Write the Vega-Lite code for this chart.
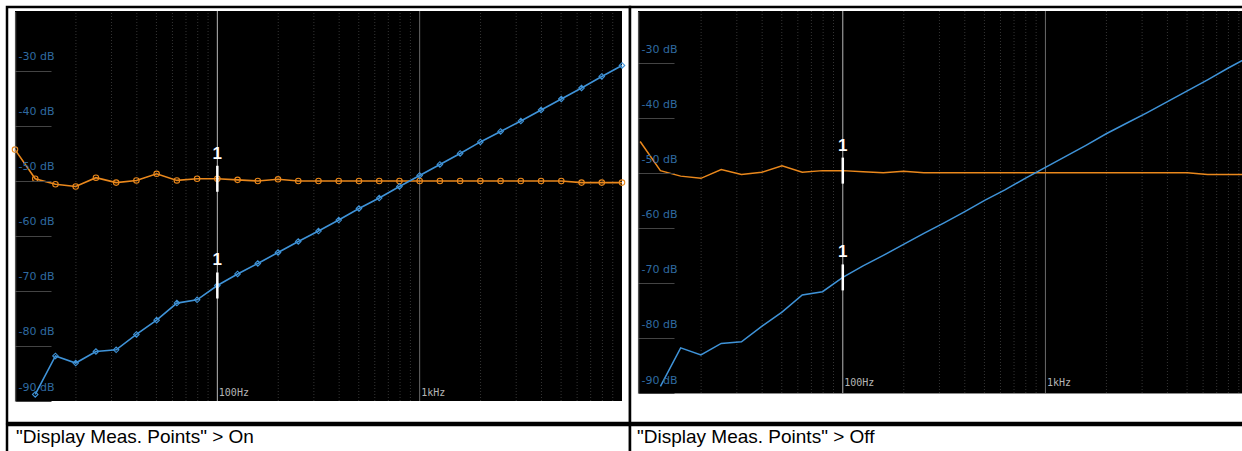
{
  "$schema": "https://vega.github.io/schema/vega-lite/v6.json",
  "background": "white",
  "padding": {"left": 5, "top": 5, "right": 0, "bottom": 0},
  "spacing": -2.5,
  "config": {"view": {"stroke": null}},
  "datasets": {
    "grid": [
      {"freq": 20, "kind": "minor"}, {"freq": 30, "kind": "minor"}, {"freq": 40, "kind": "minor"}, {"freq": 50, "kind": "minor"},
      {"freq": 60, "kind": "minor"}, {"freq": 70, "kind": "minor"}, {"freq": 80, "kind": "minor"}, {"freq": 90, "kind": "minor"},
      {"freq": 100, "kind": "major"},
      {"freq": 200, "kind": "minor"}, {"freq": 300, "kind": "minor"}, {"freq": 400, "kind": "minor"}, {"freq": 500, "kind": "minor"},
      {"freq": 600, "kind": "minor"}, {"freq": 700, "kind": "minor"}, {"freq": 800, "kind": "minor"}, {"freq": 900, "kind": "minor"},
      {"freq": 1000, "kind": "major"},
      {"freq": 2000, "kind": "minor"}, {"freq": 3000, "kind": "minor"}, {"freq": 4000, "kind": "minor"}, {"freq": 5000, "kind": "minor"},
      {"freq": 6000, "kind": "minor"}, {"freq": 7000, "kind": "minor"}, {"freq": 8000, "kind": "minor"}, {"freq": 9000, "kind": "minor"}
    ],
    "traces": [
      {"series": "Trace 1", "freq": 10, "level": -44.3},
      {"series": "Trace 1", "freq": 12.59, "level": -49.6},
      {"series": "Trace 1", "freq": 15.85, "level": -50.6},
      {"series": "Trace 1", "freq": 19.95, "level": -51.0},
      {"series": "Trace 1", "freq": 25.12, "level": -49.4},
      {"series": "Trace 1", "freq": 31.62, "level": -50.3},
      {"series": "Trace 1", "freq": 39.81, "level": -49.9},
      {"series": "Trace 1", "freq": 50.12, "level": -48.7},
      {"series": "Trace 1", "freq": 63.1, "level": -49.9},
      {"series": "Trace 1", "freq": 79.43, "level": -49.6},
      {"series": "Trace 1", "freq": 100, "level": -49.6},
      {"series": "Trace 1", "freq": 125.9, "level": -49.8},
      {"series": "Trace 1", "freq": 158.5, "level": -50.0},
      {"series": "Trace 1", "freq": 199.5, "level": -49.7},
      {"series": "Trace 1", "freq": 251.2, "level": -50.0},
      {"series": "Trace 1", "freq": 316.2, "level": -50.0},
      {"series": "Trace 1", "freq": 398.1, "level": -50.0},
      {"series": "Trace 1", "freq": 501.2, "level": -50.0},
      {"series": "Trace 1", "freq": 631, "level": -50.0},
      {"series": "Trace 1", "freq": 794.3, "level": -50.0},
      {"series": "Trace 1", "freq": 1000, "level": -50.0},
      {"series": "Trace 1", "freq": 1259, "level": -50.0},
      {"series": "Trace 1", "freq": 1585, "level": -50.0},
      {"series": "Trace 1", "freq": 1995, "level": -50.0},
      {"series": "Trace 1", "freq": 2512, "level": -50.0},
      {"series": "Trace 1", "freq": 3162, "level": -50.0},
      {"series": "Trace 1", "freq": 3981, "level": -50.0},
      {"series": "Trace 1", "freq": 5012, "level": -50.0},
      {"series": "Trace 1", "freq": 6310, "level": -50.3},
      {"series": "Trace 1", "freq": 7943, "level": -50.3},
      {"series": "Trace 1", "freq": 10000, "level": -50.3},
      {"series": "Trace 2", "freq": 12.59, "level": -88.8},
      {"series": "Trace 2", "freq": 15.85, "level": -81.8},
      {"series": "Trace 2", "freq": 19.95, "level": -83.1},
      {"series": "Trace 2", "freq": 25.12, "level": -81.0},
      {"series": "Trace 2", "freq": 31.62, "level": -80.7},
      {"series": "Trace 2", "freq": 39.81, "level": -77.9},
      {"series": "Trace 2", "freq": 50.12, "level": -75.3},
      {"series": "Trace 2", "freq": 63.1, "level": -72.2},
      {"series": "Trace 2", "freq": 79.43, "level": -71.6},
      {"series": "Trace 2", "freq": 100, "level": -69.0},
      {"series": "Trace 2", "freq": 125.9, "level": -66.9},
      {"series": "Trace 2", "freq": 158.5, "level": -65.0},
      {"series": "Trace 2", "freq": 199.5, "level": -63.0},
      {"series": "Trace 2", "freq": 251.2, "level": -61.0},
      {"series": "Trace 2", "freq": 316.2, "level": -59.1},
      {"series": "Trace 2", "freq": 398.1, "level": -57.1},
      {"series": "Trace 2", "freq": 501.2, "level": -55.0},
      {"series": "Trace 2", "freq": 631, "level": -53.1},
      {"series": "Trace 2", "freq": 794.3, "level": -51.0},
      {"series": "Trace 2", "freq": 1000, "level": -49.0},
      {"series": "Trace 2", "freq": 1259, "level": -47.0},
      {"series": "Trace 2", "freq": 1585, "level": -45.0},
      {"series": "Trace 2", "freq": 1995, "level": -42.9},
      {"series": "Trace 2", "freq": 2512, "level": -41.0},
      {"series": "Trace 2", "freq": 3162, "level": -39.1},
      {"series": "Trace 2", "freq": 3981, "level": -37.1},
      {"series": "Trace 2", "freq": 5012, "level": -35.1},
      {"series": "Trace 2", "freq": 6310, "level": -33.1},
      {"series": "Trace 2", "freq": 7943, "level": -31.0},
      {"series": "Trace 2", "freq": 10000, "level": -29.0}
    ],
    "markers": [
      {"series": "Trace 1", "freq": 100, "level": -49.6, "label": "1"},
      {"series": "Trace 2", "freq": 100, "level": -69.0, "label": "1"}
    ]
  },
  "vconcat": [
    {
      "hconcat": [
        {
          "width": 623,
          "height": 416,
          "view": {"fill": "white", "stroke": "black", "strokeWidth": 2.5},
          "layer": [
            {
              "data": {"values": [{}]},
              "mark": {"type": "rect", "color": "black"},
              "encoding": {
                "x": {"datum": 10, "type": "quantitative", "scale": {"type": "log", "domain": [10, 10000], "range": [8, 615], "nice": false},
                  "axis": {"values": [100, 1000],
                    "labelExpr": "datum.value == 100 ? '100Hz' : '1kHz'",
                    "title": null, "ticks": false, "domain": false, "offset": -22, "grid": false, "zindex": 1,
                    "labelAlign": "left", "labelBaseline": "bottom", "labelPadding": -4, "labelOffset": 1,
                    "labelColor": "#b5b5b5", "labelFont": "DejaVu Sans Mono", "labelFontSize": 10,
                    "labelOverlap": false, "labelFlush": false, "labelBound": false}},
                "x2": {"datum": 10000},
                "y": {"datum": -90, "type": "quantitative", "scale": {"domain": [-90, -19.1], "range": [394, 4], "nice": false, "zero": false},
                  "axis": {"values": [-30,-40,-50,-60,-70,-80,-90], "labelExpr": "datum.value + ' dB'", "title": null, "grid": false,
                    "offset": -8, "zindex": 1,
                    "domain": true, "domainColor": "#9a9a9a", "domainDash": [1, 1], "domainWidth": 1.5,
                    "ticks": true, "tickSize": -36, "tickColor": "#444444", "tickWidth": 1,
                    "labelAlign": "left", "labelBaseline": "middle", "labelPadding": 33, "labelOffset": -14,
                    "labelColor": "#2f6aa0", "labelFont": "DejaVu Sans", "labelFontSize": 11,
                    "labelOverlap": false, "labelFlush": false, "labelBound": false}},
                "y2": {"datum": -19.1}
              }
            },
            {
              "data": {"name": "grid"},
              "mark": {"type": "rule", "strokeWidth": 1},
              "encoding": {
                "x": {"field": "freq", "type": "quantitative", "scale": {"type": "log", "domain": [10, 10000], "range": [8, 615], "nice": false}},
                "y": {"datum": -90, "type": "quantitative", "scale": {"domain": [-90, -19.1], "range": [394, 4], "nice": false, "zero": false}},
                "y2": {"datum": -19.1},
                "color": {"condition": [{"test": "datum.freq == 100", "value": "#b8b8b8"}, {"test": "datum.freq == 1000", "value": "#6a6a6a"}], "value": "#343434"},
                "strokeDash": {"condition": {"test": "datum.kind == 'major'", "value": [1, 0]}, "value": [1, 2]}
              }
            },
            {
              "data": {"name": "traces"},
              "mark": {"type": "line", "strokeWidth": 1.6, "clip": true},
              "encoding": {
                "x": {"field": "freq", "type": "quantitative", "scale": {"type": "log", "domain": [10, 10000], "range": [8, 615], "nice": false}},
                "y": {"field": "level", "type": "quantitative", "scale": {"domain": [-90, -19.1], "range": [394, 4], "nice": false, "zero": false}},
                "color": {"field": "series", "type": "nominal", "scale": {"domain": ["Trace 1", "Trace 2"], "range": ["#ea881c", "#3f93d8"]}, "legend": null}
              }
            },
            {
              "data": {"name": "traces"},
              "mark": {"type": "point", "filled": false, "size": 30, "strokeWidth": 1.1, "opacity": 1, "clip": true},
              "encoding": {
                "x": {"field": "freq", "type": "quantitative", "scale": {"type": "log", "domain": [10, 10000], "range": [8, 615], "nice": false}},
                "y": {"field": "level", "type": "quantitative", "scale": {"domain": [-90, -19.1], "range": [394, 4], "nice": false, "zero": false}},
                "color": {"field": "series", "type": "nominal", "scale": {"domain": ["Trace 1", "Trace 2"], "range": ["#ea881c", "#3f93d8"]}, "legend": null},
                "shape": {"field": "series", "type": "nominal", "scale": {"domain": ["Trace 1", "Trace 2"], "range": ["circle", "diamond"]}, "legend": null}
              }
            },
            {
              "data": {"name": "markers"},
              "mark": {"type": "tick", "orient": "vertical", "size": 26, "thickness": 2.5, "color": "white", "opacity": 1},
              "encoding": {
                "x": {"field": "freq", "type": "quantitative", "scale": {"type": "log", "domain": [10, 10000], "range": [8, 615], "nice": false}},
                "y": {"field": "level", "type": "quantitative", "scale": {"domain": [-90, -19.1], "range": [394, 4], "nice": false, "zero": false}}
              }
            },
            {
              "data": {"name": "markers"},
              "mark": {"type": "text", "dy": -25, "fontSize": 17, "fontWeight": "bold", "font": "Liberation Sans", "color": "white"},
              "encoding": {
                "x": {"field": "freq", "type": "quantitative", "scale": {"type": "log", "domain": [10, 10000], "range": [8, 615], "nice": false}},
                "y": {"field": "level", "type": "quantitative", "scale": {"domain": [-90, -19.1], "range": [394, 4], "nice": false, "zero": false}},
                "text": {"field": "label"}
              }
            }
          ]
        },
        {
          "width": 616,
          "height": 416,
          "view": {"fill": "white", "stroke": "black", "strokeWidth": 2.5},
          "layer": [
            {
              "data": {"values": [{}]},
              "mark": {"type": "rect", "color": "black"},
              "encoding": {
                "x": {"datum": 9.76, "type": "quantitative", "scale": {"type": "log", "domain": [9.76, 9440], "range": [8, 613], "nice": false},
                  "axis": {"values": [100, 1000],
                    "labelExpr": "datum.value == 100 ? '100Hz' : '1kHz'",
                    "title": null, "ticks": false, "domain": true, "domainColor": "#8a8a8a", "domainWidth": 1, "offset": -30, "grid": false, "zindex": 1,
                    "labelAlign": "left", "labelBaseline": "bottom", "labelPadding": -6, "labelOffset": 1,
                    "labelColor": "#b5b5b5", "labelFont": "DejaVu Sans Mono", "labelFontSize": 10,
                    "labelOverlap": false, "labelFlush": false, "labelBound": false}},
                "x2": {"datum": 9440},
                "y": {"datum": -90, "type": "quantitative", "scale": {"domain": [-90, -20.6], "range": [386, 4], "nice": false, "zero": false},
                  "axis": {"values": [-30,-40,-50,-60,-70,-80,-90], "labelExpr": "datum.value + ' dB'", "title": null, "grid": false,
                    "offset": -8, "zindex": 1,
                    "domain": true, "domainColor": "#9a9a9a", "domainDash": [1, 1], "domainWidth": 1.5,
                    "ticks": true, "tickSize": -36, "tickColor": "#444444", "tickWidth": 1,
                    "labelAlign": "left", "labelBaseline": "middle", "labelPadding": 33, "labelOffset": -13,
                    "labelColor": "#2f6aa0", "labelFont": "DejaVu Sans", "labelFontSize": 11,
                    "labelOverlap": false, "labelFlush": false, "labelBound": false}},
                "y2": {"datum": -20.6}
              }
            },
            {
              "data": {"name": "grid"},
              "mark": {"type": "rule", "strokeWidth": 1},
              "encoding": {
                "x": {"field": "freq", "type": "quantitative", "scale": {"type": "log", "domain": [9.76, 9440], "range": [8, 613], "nice": false}},
                "y": {"datum": -90, "type": "quantitative", "scale": {"domain": [-90, -20.6], "range": [386, 4], "nice": false, "zero": false}},
                "y2": {"datum": -20.6},
                "color": {"condition": [{"test": "datum.freq == 100", "value": "#b8b8b8"}, {"test": "datum.freq == 1000", "value": "#6a6a6a"}], "value": "#343434"},
                "strokeDash": {"condition": {"test": "datum.kind == 'major'", "value": [1, 0]}, "value": [1, 2]}
              }
            },
            {
              "data": {"name": "traces"},
              "mark": {"type": "line", "strokeWidth": 1.5, "clip": true},
              "encoding": {
                "x": {"field": "freq", "type": "quantitative", "scale": {"type": "log", "domain": [9.76, 9440], "range": [8, 613], "nice": false}},
                "y": {"field": "level", "type": "quantitative", "scale": {"domain": [-90, -20.6], "range": [386, 4], "nice": false, "zero": false}},
                "color": {"field": "series", "type": "nominal", "scale": {"domain": ["Trace 1", "Trace 2"], "range": ["#ea881c", "#3f93d8"]}, "legend": null}
              }
            },
            {
              "data": {"name": "markers"},
              "mark": {"type": "tick", "orient": "vertical", "size": 26, "thickness": 2.5, "color": "white", "opacity": 1},
              "encoding": {
                "x": {"field": "freq", "type": "quantitative", "scale": {"type": "log", "domain": [9.76, 9440], "range": [8, 613], "nice": false}},
                "y": {"field": "level", "type": "quantitative", "scale": {"domain": [-90, -20.6], "range": [386, 4], "nice": false, "zero": false}}
              }
            },
            {
              "data": {"name": "markers"},
              "mark": {"type": "text", "dy": -25, "fontSize": 17, "fontWeight": "bold", "font": "Liberation Sans", "color": "white"},
              "encoding": {
                "x": {"field": "freq", "type": "quantitative", "scale": {"type": "log", "domain": [9.76, 9440], "range": [8, 613], "nice": false}},
                "y": {"field": "level", "type": "quantitative", "scale": {"domain": [-90, -20.6], "range": [386, 4], "nice": false, "zero": false}},
                "text": {"field": "label"}
              }
            }
          ]
        }
      ],
      "spacing": 0,
      "bounds": "flush"
    },
    {
      "hconcat": [
        {
          "width": 623,
          "height": 32,
          "view": {"fill": "white", "stroke": "black", "strokeWidth": 2.5},
          "data": {"values": [{"caption": "\"Display Meas. Points\" > On", "at": 0}]},
          "mark": {"type": "text", "align": "left", "baseline": "alphabetic", "dx": 9, "dy": 2, "font": "Liberation Sans", "fontSize": 19, "color": "black"},
          "encoding": {
            "x": {"field": "at", "type": "quantitative", "scale": {"domain": [0, 1]}, "axis": null},
            "text": {"field": "caption"}
          }
        },
        {
          "width": 616,
          "height": 32,
          "view": {"fill": "white", "stroke": "black", "strokeWidth": 2.5},
          "data": {"values": [{"caption": "\"Display Meas. Points\" > Off", "at": 0}]},
          "mark": {"type": "text", "align": "left", "baseline": "alphabetic", "dx": 7, "dy": 2, "font": "Liberation Sans", "fontSize": 19, "color": "black"},
          "encoding": {
            "x": {"field": "at", "type": "quantitative", "scale": {"domain": [0, 1]}, "axis": null},
            "text": {"field": "caption"}
          }
        }
      ],
      "spacing": 0,
      "bounds": "flush"
    }
  ]
}
